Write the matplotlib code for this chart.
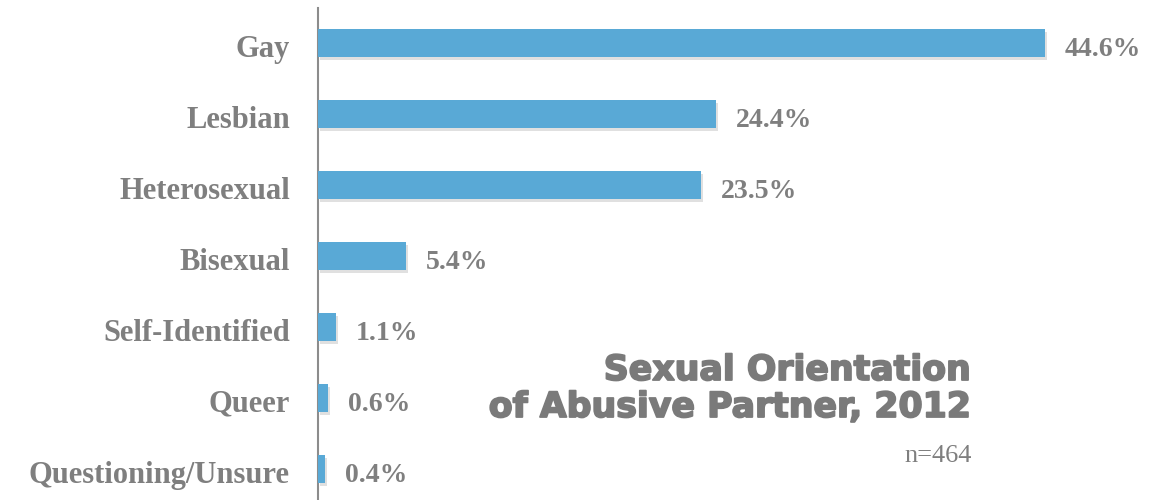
import matplotlib
matplotlib.use("Agg")
import matplotlib.pyplot as plt
import matplotlib.patheffects as pe

categories = ["Gay", "Lesbian", "Heterosexual", "Bisexual", "Self-Identified", "Queer", "Questioning/Unsure"]
values = [44.6, 24.4, 23.5, 5.4, 1.1, 0.6, 0.4]
value_labels = ["44.6%", "24.4%", "23.5%", "5.4%", "1.1%", "0.6%", "0.4%"]

W, H = 1149, 500
fig = plt.figure(figsize=(W / 100, H / 100), dpi=100)
ax = fig.add_axes([318 / W, 0, 1 - 318 / W, (500 - 8) / H])

bar_color = "#59A9D6"
text_gray = "#7f7f7f"
serif = ["Liberation Serif", "DejaVu Serif"]
PX = 0.72  # points per pixel at 100 dpi

y = list(range(len(categories)))
bars = ax.barh(y, values, height=0.4, color=bar_color, zorder=3)
for b in bars:
    b.set_path_effects([pe.SimplePatchShadow(offset=(1.5, -2.5), shadow_rgbFace="#999999", alpha=0.3), pe.Normal()])

for yi, v, lab in zip(y, values, value_labels):
    ax.annotate(lab, (v, yi), xytext=(20 * PX, -13 * PX), textcoords="offset points",
                va="baseline", ha="left", fontsize=20, fontweight="bold",
                color=text_gray, family=serif)

for yi, cat in zip(y, categories):
    ax.annotate(cat, (0, yi), xytext=(-28 * PX, -14 * PX), textcoords="offset points",
                va="baseline", ha="right", fontsize=22, fontweight="bold",
                color=text_gray, family=serif, annotation_clip=False)

ax.set_xlim(0, 51)
ax.set_ylim(6.44, -0.49)
ax.set_yticks([])
ax.set_xticks([])
for s in ["top", "right", "bottom"]:
    ax.spines[s].set_visible(False)
ax.spines["left"].set_color("#8c8c8c")
ax.spines["left"].set_linewidth(1.5)

title_kw = dict(ha="right", va="baseline", fontsize=25, fontweight="bold", color="#7a7a7a",
                family=["DejaVu Sans"],
                path_effects=[pe.withStroke(linewidth=1.3, foreground="#7a7a7a")])
fig.text(971 / W, 1 - 380 / H, "Sexual Orientation", **title_kw)
fig.text(971 / W, 1 - 417 / H, "of Abusive Partner, 2012", **title_kw)
fig.text(972 / W, 1 - 462 / H, "n=464", ha="right", va="baseline",
         fontsize=19, color=text_gray, family=serif)

fig.savefig("out.png", dpi=100)
